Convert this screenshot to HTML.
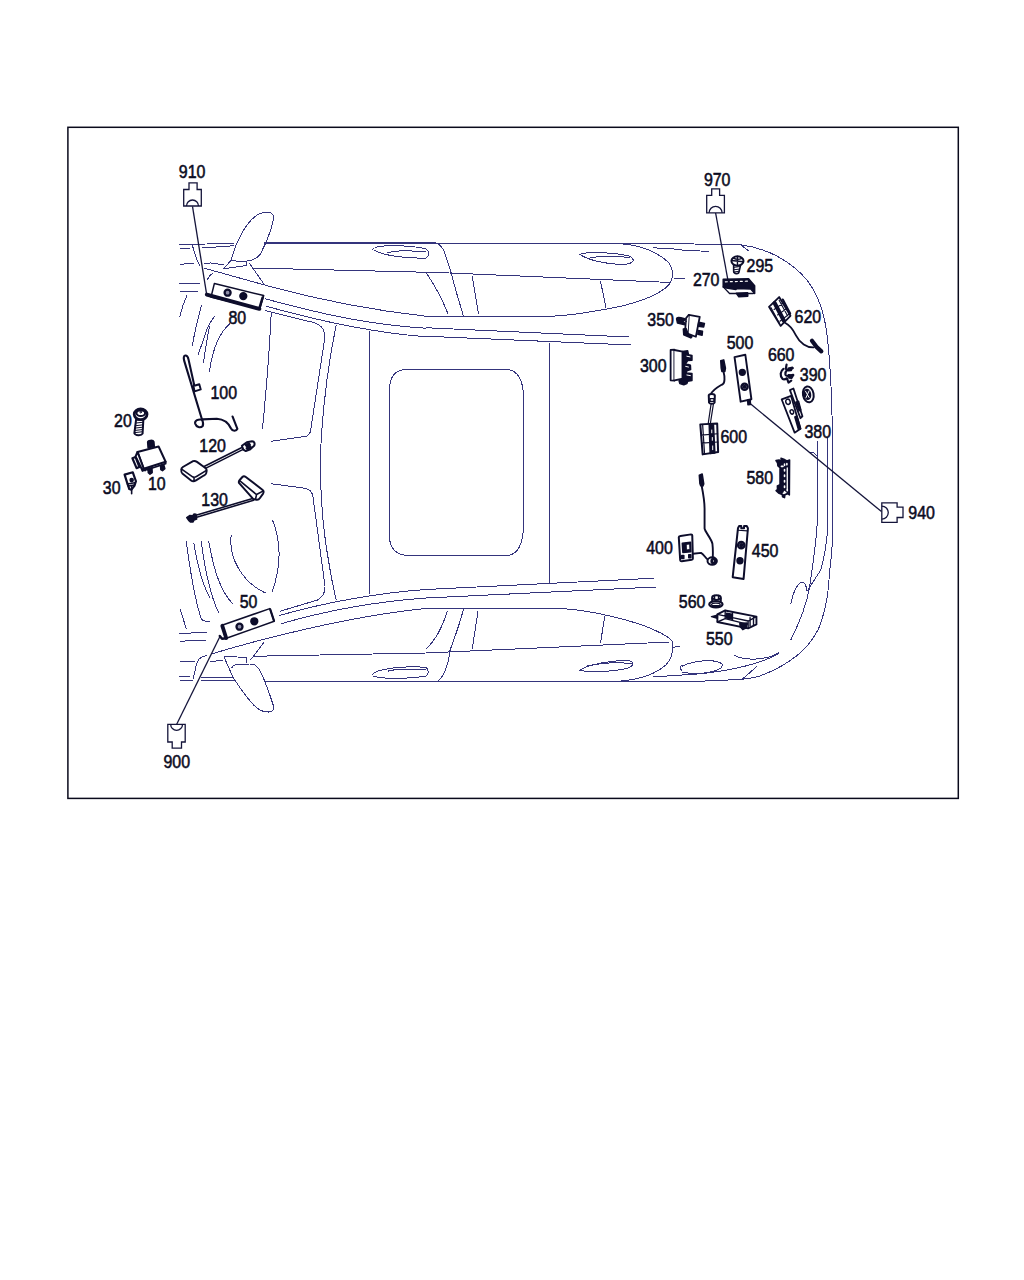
<!DOCTYPE html>
<html lang="en">
<head>
<meta charset="utf-8">
<title>Parts diagram</title>
<style>
html,body{margin:0;padding:0;background:#fff;}
body{width:1024px;height:1280px;overflow:hidden;position:relative;font-family:"Liberation Sans",sans-serif;}
svg{position:absolute;left:0;top:0;display:block;}
.car path,.car line,.car ellipse,.car polyline{fill:none;stroke:#34347c;stroke-width:1;vector-effect:non-scaling-stroke;shape-rendering:crispEdges;}
.lbl text{font-family:"Liberation Sans",sans-serif;font-size:17.7px;fill:#0b0b22;stroke:#0b0b22;stroke-width:.55;}
.con path,.con line{fill:none;stroke:#14143a;stroke-width:1.3;}
.ldr line{stroke:#14143a;stroke-width:1.3;}
.prt path,.prt line,.prt rect,.prt ellipse,.prt circle,.prt polyline,.prt polygon{stroke:#0d0d2b;stroke-width:1.5;fill:none;vector-effect:non-scaling-stroke;stroke-linejoin:round;stroke-linecap:round;}
.prt .f{fill:#0d0d2b;}
.prt .w{fill:#fff;}
.prt .t{stroke-width:2.4;}
.prt .n{stroke-width:1;}
</style>
</head>
<body>
<svg width="1024" height="1280" viewBox="0 0 1024 1280">
<rect x="0" y="0" width="1024" height="1280" fill="#ffffff"/>
<!-- FRAME -->
<rect x="67.9" y="127.3" width="890.4" height="671.1" fill="none" stroke="#0a0a1c" stroke-width="1.5"/>

<g class="car" transform="translate(170,200) scale(.25)">
<!-- mirror top -->
<path d="M245 240C262 170 305 85 352 58C380 45 405 45 413 62C418 85 392 160 362 215C342 246 290 252 245 240Z"/>
<path d="M245 240L215 275L305 262V249M318 254L375 335"/>
<!-- roof edge left -->
<path d="M38 177L258 175M375 170H1024M375 174H1024M40 196L80 194M127 192L255 183M89 179C93 195 98 210 101 217Q108 245 120 264"/>
<path d="M38 257L98 254M138 254L162 252L216 259M38 333L126 332M38 367L112 367"/>
<path d="M138 273L400 346C600 400 800 440 1024 465M148 320Q158 300 174 290"/>
<path d="M328 272L1024 289"/>
<path d="M380 395C600 455 800 500 1024 513M385 425C600 485 800 530 1024 547"/>
<!-- windshield reflections -->
<path d="M68 381C55 410 45 440 38 470M126 421C110 480 98 530 89 585M178 465C160 490 150 505 140 540C128 580 118 600 112 620M159 505C150 540 145 570 134 653M241 494C195 530 170 600 157 688"/>
<!-- front door window top -->
<path d="M405 450C398 600 385 760 370 915M380 442L540 482C600 492 625 512 618 560L562 925Q558 943 540 946L405 965"/>
<!-- B pillar -->
<path d="M665 498C640 620 615 800 605 950C600 1050 600 1150 612 1280"/>
<path d="M797 525V1280"/>
<path d="M1024 678H940Q878 684 878 760V1280"/>
<!-- oval handle top-left -->
<path d="M810 200C815 180 900 178 1000 190L1024 196M815 200C850 222 950 235 1024 232M870 212C900 200 960 202 1024 208"/>
</g>
<g class="car" transform="translate(426,200) scale(.25)">
<path d="M0 173L470 174L1024 175M776 175C860 180 930 210 970 250C990 280 990 310 975 335C930 390 800 425 700 440C620 455 560 463 500 465H0"/>
<path d="M0 170H40"/>
<path d="M908 191L1024 198M993 313L1024 314"/>
<path d="M40 172Q66 182 76 215L100 290Q122 375 150 465M0 290Q52 365 88 455"/>
<path d="M0 288L980 330"/>
<path d="M185 305L210 455M698 325L720 430"/>
<path d="M615 218C640 205 760 210 815 225C840 240 830 255 790 258C720 258 650 240 615 218ZM655 232C700 222 770 222 815 232"/>
<path d="M0 511L810 548M0 545L820 580"/>
<path d="M493 570V1280"/>
<path d="M0 678H330Q385 688 390 780V1280"/>
<path d="M0 196C15 205 15 222 0 232"/>
</g>
<g class="car" transform="translate(682,200) scale(.25)">
<path d="M0 175L240 180C350 195 440 250 500 320C545 380 570 450 580 540C590 620 598 750 601 900L604 1280"/>
<path d="M0 200L110 206M235 180L270 206M0 314H12"/>
<path d="M541 962V1280M583 949L584 1280M541 1023L527 1012L508 1010"/>
</g>
<g class="car" transform="translate(170,440) scale(.25)">
<path d="M405 175L540 193Q568 198 572 228L620 585Q622 622 590 640L440 685"/>
<path d="M612 320C618 380 625 430 632 470C640 520 650 580 665 640"/>
<path d="M797 320V615"/>
<path d="M878 320V390Q882 458 950 462H1024"/>
<path d="M437 702C640 645 830 612 1024 598M444 735C640 678 830 646 1024 632"/>
<path d="M162 857C400 785 740 702 1024 674"/>
<!-- windshield reflections lower -->
<path d="M65 405C80 520 100 640 125 715Q135 728 160 725M95 410C110 500 130 580 160 632M125 405C140 520 160 620 195 692M155 405C175 520 200 600 250 655"/>
<path d="M245 380C232 470 290 570 382 612M410 320C450 420 440 520 408 608"/>
<path d="M40 675L65 755M38 775L150 768M38 805L145 800"/>
<path d="M38 885H98M159 885L211 883M92 958C96 935 100 925 101 919C105 895 112 882 117 876Q128 864 150 862M337 865L1024 852"/>
<path d="M38 947L80 945M38 962H91M126 951L253 952M122 961H255"/>
<!-- mirror bottom -->
<path d="M215 865L305 870V892M322 880L375 810"/>
<path d="M216 868L255 955C270 975 280 992 291 1006C303 1022 315 1038 328 1053C340 1066 350 1075 361 1081C372 1086 383 1088 394 1088C402 1087 408 1085 412 1081Q416 1075 415 1067L398 1016L375 955C369 940 363 928 356 917C350 908 345 902 337 898Q330 896 319 896L262 898Q252 902 246 912"/>
<path d="M380 966H1024"/>
<path d="M810 940C815 920 900 905 1000 908L1024 910M812 945C860 958 960 955 1024 945M870 925C900 915 960 915 1024 918"/>
</g>
<g class="car" transform="translate(426,440) scale(.25)">
<path d="M390 320V350Q385 452 330 462H0"/>
<path d="M493 320V570"/>
<path d="M0 598L910 553M0 632L920 588"/>
<path d="M0 672H500C620 675 720 695 850 735C920 760 965 780 985 805C992 840 985 870 960 900C920 935 870 950 830 958L770 965"/>
<path d="M85 685C65 750 40 800 0 835M150 675C135 740 110 800 95 845C90 890 80 940 45 966"/>
<path d="M0 852L975 808M985 830L1015 825"/>
<path d="M208 685L185 835M715 705L698 812"/>
<path d="M615 922C640 900 740 880 810 882C840 890 830 905 800 915C740 928 660 930 615 922ZM640 905C700 892 770 888 825 895"/>
<path d="M0 966L1024 964M908 946L1024 942"/>
<path d="M0 910C12 918 12 935 0 945"/>
<path d="M1024 902C1015 905 1012 915 1024 922"/>
</g>
<g class="car" transform="translate(682,440) scale(.25)">
<path d="M604 320C603 400 598 470 591 520C588 560 585 600 581 629C574 670 565 705 553 739C540 775 520 800 499 826C470 858 435 882 400 903C370 920 335 936 302 947C280 952 255 956 231 958L0 968"/>
<path d="M584 320C582 400 575 450 555 520L500 605"/>
<path d="M541 320C540 400 525 480 510 590C500 650 470 730 435 800"/>
<path d="M435 655C445 610 460 575 480 568C492 570 498 585 500 605"/>
<path d="M210 862C260 885 340 880 390 850"/>
<path d="M0 905C50 880 130 875 160 895C170 915 130 930 60 935L0 930"/>
<path d="M0 940C130 935 300 905 385 855M240 958L300 905"/>
</g>

<!-- LEADERS -->
<g class="ldr">
<line x1="192.5" y1="206.4" x2="206.6" y2="294.2"/>
<line x1="715.6" y1="213" x2="727.9" y2="280"/>
<line x1="749.8" y1="403.3" x2="881.5" y2="511.6"/>
<line x1="176.7" y1="724.2" x2="220.2" y2="636"/>
</g>

<!-- CONNECTORS -->
<g class="con">
<path d="M183.7 206V189.5H189V182.9H197.1V189.5H201.3V206Z"/>
<path d="M186.5 206A6 6 0 0 1 198.5 206"/>
<path d="M706.7 212.8V195.4H711.7V188.9H719.6V195.4H724.4V212.8Z"/>
<path d="M709.1 212.8A6.5 6.5 0 0 1 722.1 212.8"/>
<path d="M881.8 502.8H897.1V507.2H903V517.5H897.1V522.4H881.8Z"/>
<path d="M881.8 506.1A6.5 6.5 0 0 1 881.8 519.1"/>
<path d="M167.8 724.4H185.2V742H181.5V748.2H172.2V742H167.8Z"/>
<path d="M170.7 724.4A5.9 5.9 0 0 0 182.5 724.4"/>
</g>

<!-- PARTS -->
<g class="prt">
<!-- part 80 -->
<path class="w" d="M214.4 283.4L263.7 295.6L259.8 308.8L211 297.1Z"/>
<path d="M206.8 294.6L259.4 308.9" style="stroke-width:3.8"/>
<path d="M262.6 297.5L259.3 308.5" style="stroke-width:2.5"/>
<circle cx="227.6" cy="292.7" r="3" style="stroke-width:2.3;fill:#8f8fa8"/>
<circle cx="243.3" cy="296.1" r="3.4" class="f"/>
<!-- part 50 -->
<path class="w" d="M222 625.2L269.8 608.6L274.2 621.3L226.4 638.3Z"/>
<path d="M222.3 625.8L226.2 638" style="stroke-width:3.8"/>
<path d="M219.8 636L222 638.8L226.4 638.3" style="stroke-width:2.5"/>
<path d="M270.3 609.5L274 620.8" style="stroke-width:2.2"/>
<circle cx="239.5" cy="626.7" r="3" style="stroke-width:2.3;fill:#8f8fa8"/>
<circle cx="254.3" cy="621.3" r="3.4" class="f"/>
</g>
<!-- part 100 -->
<g class="prt" transform="translate(170,345) scale(.09765625)" style="stroke-width:2.1">
<path style="stroke-width:2.1" d="M155 108C140 110 138 130 145 160L330 770M155 108C175 105 185 125 190 150L250 420"/>
<path style="stroke-width:1.9" class="w" d="M240 420L300 402L315 455L252 475Z"/>
<path style="stroke-width:2.1" d="M330 765C290 755 250 775 258 805C270 840 310 855 335 830C345 810 335 780 330 765M330 762L480 755C560 760 600 800 625 855C640 885 680 885 690 860L640 732"/>
</g>
<!-- parts 20,10,30 -->
<g class="prt" transform="translate(100,400) scale(.078125)">
<path class="w" style="stroke-width:2" d="M462 250L440 425C450 455 530 460 545 430L555 250Z"/>
<path class="n" d="M450 330L548 318M448 360L547 348M445 390L546 378M443 418L545 406M455 295L550 285"/>
<ellipse class="w" cx="520" cy="183" rx="82" ry="68" style="stroke-width:2.8"/>
<ellipse cx="522" cy="168" rx="55" ry="36" style="stroke-width:2"/>
<circle cx="520" cy="155" r="10" class="n"/>
<!-- 10 box -->
<path class="f" d="M610 540C610 515 680 505 690 535L695 595L615 610Z"/>
<path class="w" style="stroke-width:2" d="M480 665L750 595L840 790L560 880Z"/>
<path class="w" style="stroke-width:2" d="M480 665L455 722L545 905L560 880Z"/>
<path class="w" style="stroke-width:2.2" d="M415 745L455 730L505 858L468 872Z"/>
<path style="stroke-width:1.8" d="M545 905L640 880M640 880L840 815L840 790M600 870L605 895M575 878L580 902"/>
<path class="f" d="M615 880L665 868L668 930L640 950L618 930Z"/>
<path class="f" d="M775 840L815 825L830 880L800 905L778 890Z"/>
<!-- 30 clip -->
<path class="w" style="stroke-width:2.2" d="M315 955L420 925L460 1040L440 1100L400 1150L375 1140L345 1050Z"/>
<path style="stroke-width:1.6" d="M350 1075L445 1060M360 1100L440 1090M405 1100V1200"/>
<circle cx="405" cy="1025" r="20" class="f"/>
</g>
<!-- parts 120,130 -->
<g class="prt" transform="translate(175,435) scale(.09765625)">
<path class="w" style="stroke-width:1.9" d="M65 352C62 340 70 335 85 325L185 268C200 262 210 265 225 275L315 340C328 350 328 360 320 390C318 400 310 408 295 415L215 465C195 478 180 478 165 465L75 395C62 385 62 375 65 352Z"/>
<path style="stroke-width:1.6" d="M68 350L180 428C195 436 205 434 220 425L322 362M195 433V472"/>
<path style="stroke-width:1.6" d="M298 322L695 122M312 342L708 142"/>
<path class="w" style="stroke-width:2" d="M685 110L735 75L790 65C815 65 820 90 810 110L765 150L725 165L700 150Z"/>
<path class="f" d="M720 100L760 85L770 100L735 120ZM730 135L775 115L780 135L745 155Z"/>
<!-- 130 -->
<path class="w" style="stroke-width:2" d="M655 490C650 478 655 470 665 458L690 430C700 420 712 420 725 430L895 560C910 572 910 585 902 600L870 645C860 660 845 668 825 660L800 655Z"/>
<path style="stroke-width:1.6" d="M665 470L835 610L900 575M835 610L825 655"/>
<path style="stroke-width:1.6" d="M795 650L215 822M805 668L222 842"/>
<path class="f" d="M120 845L150 825L180 828L195 808L215 812L222 860L195 870L185 890L160 892L140 875Z"/>
</g>

<!-- parts 270,295 -->
<g class="prt" transform="translate(690,240) scale(.09765625)">
<path class="w" style="stroke-width:1.3" d="M340 480L405 548H645L660 545"/>
<path class="f" d="M340 403L600 398L662 468V548L622 502L482 496L470 506L372 492L340 482Z"/>
<path class="f" d="M475 545L590 540L592 575L500 582Z"/>
<path style="stroke:#fff;stroke-width:1.2;stroke-dasharray:2 3" d="M362 428L590 422"/>
<path class="w" style="stroke-width:1.6" d="M447 250V322C450 350 500 352 502 325L520 250Z"/>
<path class="n" d="M447 280L512 272M447 305L506 298M448 328L502 320"/>
<ellipse class="w" cx="486" cy="215" rx="62" ry="48" style="stroke-width:2"/>
<path style="stroke-width:1.4" d="M486 168V262M426 210L546 222M445 185C470 200 505 200 530 188"/>
</g>
<!-- parts 620,660 -->
<g class="prt" transform="translate(760,290) scale(.078125)">
<path class="w" style="stroke-width:1.8" d="M245 90L390 330L265 460L115 215Z"/>
<path style="stroke-width:4.2" d="M188 168L305 392"/>
<path style="stroke-width:2.1" d="M292 122L386 302"/>
<path style="stroke-width:1.1" d="M180 250L300 165M225 320L345 235M255 400L370 310M140 225L250 430M245 130L352 330"/>
<path style="stroke-width:1.8" d="M320 420C400 460 430 520 460 580C510 680 600 740 690 735"/>
<path style="stroke-width:4.2" d="M665 650L730 735L785 785"/>
<!-- 660 clip -->
<path style="stroke-width:2.2" d="M340 955L330 1010M420 1000C360 1010 320 1040 325 1080C330 1110 380 1100 425 1085M300 1010C260 1040 250 1100 290 1140C310 1150 330 1140 345 1130M345 1130L365 1185L400 1160"/>
<path class="f" d="M360 1000L415 990L400 1030L365 1035ZM365 1085L430 1090L405 1130L370 1125Z"/>
</g>
<!-- parts 390,380 -->
<g class="prt" transform="translate(770,360) scale(.078125)">
<ellipse class="w" cx="490" cy="440" rx="68" ry="103" style="stroke-width:2" transform="rotate(-10 490 440)"/>
<ellipse class="f" cx="478" cy="440" rx="40" ry="62" transform="rotate(-10 478 440)"/>
<path style="stroke:#fff;stroke-width:1" d="M455 400L500 480M500 395L460 485"/>
<path class="w" style="stroke-width:1.8" d="M150 505L270 460L390 880L315 930Z"/>
<path class="w" style="stroke-width:1.8" d="M255 385L300 365L415 720L390 745Z"/>
<ellipse cx="230" cy="535" rx="28" ry="34" style="stroke-width:1.5" transform="rotate(-20 230 535)"/>
<ellipse cx="280" cy="665" rx="22" ry="28" style="stroke-width:1.5" transform="rotate(-20 280 665)"/>
<path class="f" d="M318 730L345 718L392 880L365 892Z"/>
<path class="f" d="M330 540L365 528L395 640L372 650Z"/>
</g>
<!-- parts 350,300 -->
<g class="prt" transform="translate(640,300) scale(.078125)">
<path class="f" d="M468 240C470 220 500 218 560 235L605 255L600 320L560 315L480 295Z"/>
<path class="w" style="stroke-width:1.8" d="M625 190L765 215L715 470L610 430Z"/>
<path class="w" style="stroke-width:1.8" d="M625 190L590 230L575 420L610 430"/>
<path class="f" d="M752 285L825 300L815 345L745 335ZM745 390L800 400L795 450L740 440ZM555 370L590 365L620 445L665 470L650 485L560 445Z"/>
<circle cx="575" cy="275" r="14" class="w n"/>
<!-- 300 -->
<path class="w" style="stroke-width:1.8" d="M392 640L440 636V1032L392 1028Z"/>
<path class="w" style="stroke-width:1.8" d="M440 640L545 662V1008L440 1028"/>
<path class="f" d="M545 660L610 650L620 700L665 710V770L610 775L585 815L645 835L648 890L600 905L590 935L665 940V1030L610 1040L600 1070L560 1085L510 1070L500 1035L545 1010Z"/>
<path style="stroke:#fff;stroke-width:1" d="M600 720L640 728M600 960L645 968M585 850L620 858"/>
</g>
<!-- parts 500,600 -->
<g class="prt" transform="translate(690,340) scale(.09375)">
<path class="w" style="stroke-width:1.9" d="M475 182L590 157L655 632L540 658Z"/>
<path class="f" d="M615 640L642 636L645 688L618 690Z"/>
<circle cx="558" cy="345" r="31" class="f"/>
<circle cx="582" cy="498" r="33" style="stroke-width:2.4"/>
<circle cx="582" cy="498" r="14" class="f"/>
<!-- 600 cable -->
<path class="f" d="M328 222L360 212L378 300L372 335L340 335L333 300Z"/>
<path style="stroke-width:1.9" d="M357 335C375 400 370 460 350 470C300 500 240 530 222 580"/>
<path class="w" style="stroke-width:2" d="M200 590C205 570 260 570 265 592L262 668C255 685 210 685 203 668Z"/>
<path style="stroke-width:1.2" d="M215 625H255V655H215Z"/>
<path style="stroke-width:1.2" d="M225 682L195 885M250 682L218 885"/>
<path class="w" style="stroke-width:2" d="M110 900L290 890L300 1195L135 1220Z"/>
<path style="stroke-width:1.2" d="M135 905L155 1215M120 1015L295 1000M125 1100L298 1088"/>
<path class="f" d="M205 905L250 900L265 1205L215 1210Z"/>
<path style="stroke:#fff;stroke-width:1" d="M232 960V990M238 1040V1070M242 1130V1170"/>
</g>
<!-- parts 400,450 -->
<g class="prt" transform="translate(670,450) scale(.1171875)">
<path class="w" style="stroke-width:2" d="M75 745Q75 735 90 733L180 720Q190 720 190 730L195 925Q195 935 185 937L100 950Q88 950 87 940Z"/>
<path class="f" d="M105 795L175 788L178 868L110 875Z"/>
<path class="w n" d="M140 805L168 802L170 850L142 853Z"/>
<path class="f" d="M100 900H118V925H100ZM160 893H178V920H160Z"/>
<path class="f" d="M250 215L275 205L288 290L280 308L262 305L255 285Z"/>
<path style="stroke-width:1.9" d="M270 305C285 380 295 430 295 500V670C300 700 355 760 362 800C368 850 366 890 365 920"/>
<path style="stroke-width:1.9" d="M196 885L265 878C290 890 300 920 322 935"/>
<ellipse cx="360" cy="948" rx="40" ry="32" class="w" style="stroke-width:2"/>
<ellipse cx="372" cy="948" rx="16" ry="18" style="stroke-width:2.7"/>
<!-- 450 -->
<path class="w" style="stroke-width:2" d="M580 668L590 648H608V668H632V648H655L665 668L628 1100L535 1085Z"/>
<path style="stroke-width:1.2" d="M580 685L662 690"/>
<circle cx="608" cy="812" r="27" style="stroke-width:2.4"/>
<circle cx="608" cy="812" r="12" class="f"/>
<circle cx="597" cy="945" r="25" class="f"/>
</g>
<!-- part 580 -->
<g class="prt" transform="translate(740,450) scale(.078125)">
<path class="f" d="M460 135L500 128L530 145L525 105L560 118L600 140L635 128L632 575L610 560L575 575L570 610L545 600L540 570L500 555L462 520L480 505L478 460L512 445V225L485 205L480 165Z"/>
<path style="stroke:#fff;stroke-width:1.3" d="M605 230V500"/>
<path style="stroke:#fff;stroke-width:1.6;stroke-dasharray:1.5 4" d="M570 180V560"/>
<path style="stroke:#fff;stroke-width:1.6" d="M530 210H550M600 175V190M605 505V520M555 555L585 545"/>
</g>
<!-- parts 560,550 -->
<g class="prt" transform="translate(670,580) scale(.09765625)">
<path class="w" style="stroke-width:2" d="M432 215V175Q435 155 475 155Q518 155 520 178V215"/>
<path style="stroke-width:1.6" d="M432 190C460 205 495 205 520 190M455 158V200M498 158V200"/>
<ellipse cx="470" cy="248" rx="68" ry="32" class="w" style="stroke-width:2.2"/>
<ellipse cx="470" cy="252" rx="44" ry="16" style="stroke-width:1.3"/><path style="stroke-width:1.1" d="M440 262L500 262M448 270H492"/>
<!-- 550 -->
<path class="w" style="stroke-width:1.9" d="M485 352L565 312L885 375V455L800 495L485 430Z"/>
<path style="stroke-width:1.4" d="M485 352L640 385L800 420L885 375M800 420V495M565 312V395L485 430M565 395L800 455M640 340V410M820 385V470M855 375V460"/>
<path class="f" d="M425 375L485 362V392ZM715 445L790 440L780 490L745 508L720 480ZM580 340L635 350V400L580 390Z"/>
</g>
<!-- LABELS -->
<g class="lbl" opacity="0.999">
<text x="178.8" y="177.8" textLength="26.6" lengthAdjust="spacingAndGlyphs">910</text>
<text x="703.9" y="186.2" textLength="26.6" lengthAdjust="spacingAndGlyphs">970</text>
<text x="746.6" y="272.4" textLength="26.6" lengthAdjust="spacingAndGlyphs">295</text>
<text x="692.9" y="286.1" textLength="26.6" lengthAdjust="spacingAndGlyphs">270</text>
<text x="794.6" y="323.4" textLength="26.6" lengthAdjust="spacingAndGlyphs">620</text>
<text x="647.3" y="325.9" textLength="26.6" lengthAdjust="spacingAndGlyphs">350</text>
<text x="726.7" y="349.2" textLength="26.6" lengthAdjust="spacingAndGlyphs">500</text>
<text x="767.9" y="360.8" textLength="26.6" lengthAdjust="spacingAndGlyphs">660</text>
<text x="640.0" y="371.8" textLength="26.6" lengthAdjust="spacingAndGlyphs">300</text>
<text x="799.8" y="381.2" textLength="26.6" lengthAdjust="spacingAndGlyphs">390</text>
<text x="804.5" y="437.7" textLength="26.6" lengthAdjust="spacingAndGlyphs">380</text>
<text x="720.5" y="442.7" textLength="26.6" lengthAdjust="spacingAndGlyphs">600</text>
<text x="746.5" y="483.6" textLength="26.6" lengthAdjust="spacingAndGlyphs">580</text>
<text x="908.3" y="519.1" textLength="26.6" lengthAdjust="spacingAndGlyphs">940</text>
<text x="228.5" y="323.8" textLength="17.7" lengthAdjust="spacingAndGlyphs">80</text>
<text x="210.5" y="398.8" textLength="26.6" lengthAdjust="spacingAndGlyphs">100</text>
<text x="199.3" y="452.1" textLength="26.6" lengthAdjust="spacingAndGlyphs">120</text>
<text x="201.3" y="505.7" textLength="26.6" lengthAdjust="spacingAndGlyphs">130</text>
<text x="114.1" y="427.0" textLength="17.7" lengthAdjust="spacingAndGlyphs">20</text>
<text x="102.8" y="493.8" textLength="17.7" lengthAdjust="spacingAndGlyphs">30</text>
<text x="147.9" y="490.4" textLength="17.7" lengthAdjust="spacingAndGlyphs">10</text>
<text x="239.7" y="608.2" textLength="17.7" lengthAdjust="spacingAndGlyphs">50</text>
<text x="163.5" y="767.6" textLength="26.6" lengthAdjust="spacingAndGlyphs">900</text>
<text x="646.2" y="553.8" textLength="26.6" lengthAdjust="spacingAndGlyphs">400</text>
<text x="751.8" y="556.9" textLength="26.6" lengthAdjust="spacingAndGlyphs">450</text>
<text x="678.8" y="607.9" textLength="26.6" lengthAdjust="spacingAndGlyphs">560</text>
<text x="706.0" y="644.9" textLength="26.6" lengthAdjust="spacingAndGlyphs">550</text>
</g>
</svg>
</body>
</html>
